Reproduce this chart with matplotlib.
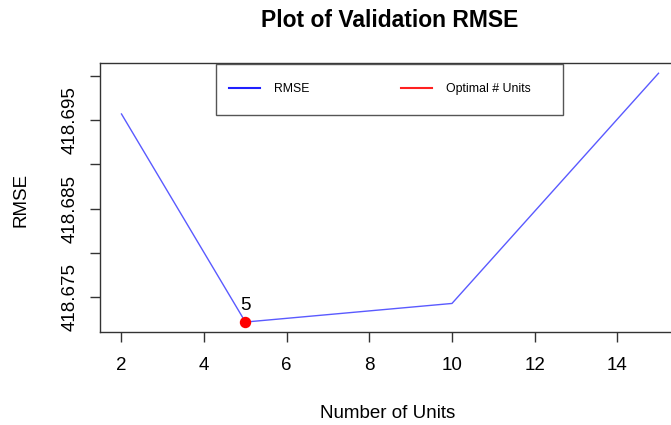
import numpy as np
import matplotlib
matplotlib.use('Agg')
import matplotlib.pyplot as plt
from matplotlib.lines import Line2D
from matplotlib.patches import Rectangle

plt.rcParams['font.family'] = ['Liberation Sans', 'DejaVu Sans']

# validation results per number of hidden units
units = [2, 5, 10, 15]
rmse = [418.6957, 418.6722, 418.6743, 418.7003]

x_ticks = [2, 4, 6, 8, 10, 12, 14]
y_ticks = [418.675, 418.680, 418.685, 418.690, 418.695, 418.700]
y_tick_labels = ['418.675', '', '418.685', '', '418.695', '']

best = int(np.argmin(rmse))

fig = plt.figure(figsize=(6.71, 4.25), dpi=100)
ax = fig.add_axes([100 / 671, 1 - 332 / 425, 580 / 671, 268.7 / 425])

ax.plot(units, rmse, color='#5a5aff', lw=1.0)
ax.plot(units[best], rmse[best], 'o', color='#ff0000', markersize=7.2)
ax.annotate(str(units[best]), (units[best], rmse[best]), xytext=(0, 12),
            textcoords='offset points', ha='center', va='center', fontsize=13.5)

ax.margins(x=0.04, y=0.04)
ax.set_xticks(x_ticks)
ax.set_yticks(y_ticks)
ax.set_yticklabels(y_tick_labels, rotation=90, va='center')

ax.tick_params(axis='both', length=7.2, width=1.0, color='#333333', labelsize=13.5)
ax.tick_params(axis='x', pad=11)
ax.tick_params(axis='y', pad=8)
for s in ax.spines.values():
    s.set_color('#333333')
    s.set_linewidth(1.0)

ax.set_xlabel('Number of Units', fontsize=13.5)
ax.set_ylabel('RMSE', fontsize=13.5)
ax.xaxis.set_label_coords(0.496, -0.272)
ax.yaxis.set_label_coords(-0.122, 0.49)
ax.set_title('Plot of Validation RMSE', fontsize=16.5, fontweight='bold', pad=26)

# legend box like R's legend()
fig.patches.append(Rectangle((215.7 / 671, 1 - 115 / 425), 347.3 / 671, 51 / 425,
                             transform=fig.transFigure, fill=False,
                             edgecolor='#555555', lw=1.0))
handles = [Line2D([], [], color='#2020ff', lw=1.5),
           Line2D([], [], color='#ff2020', lw=1.5)]
fig.legend(handles, ['RMSE', 'Optimal # Units'], loc='center left',
           bbox_to_anchor=(229 / 671, 1 - 89 / 425), bbox_transform=fig.transFigure,
           ncol=2, frameon=False, fontsize=8.8, borderpad=0, borderaxespad=0,
           handlelength=2.54, handletextpad=1.15, columnspacing=7.46)

fig.savefig('out.png', dpi=100)
